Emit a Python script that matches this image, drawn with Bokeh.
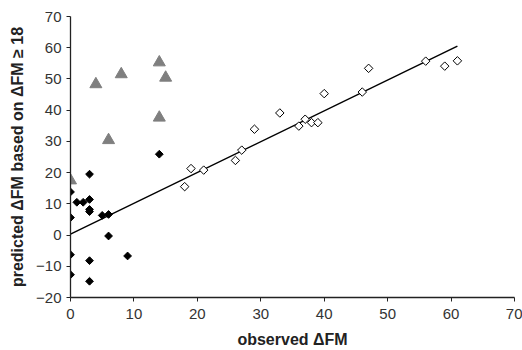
import math
from bokeh.plotting import figure
from bokeh.models import Range1d, FixedTicker
from bokeh.embed import file_html
from bokeh.resources import INLINE

# filled diamonds (observed < 18)
low_x = [0, 0, 0, 0, 1, 2, 3, 3, 3, 3, 3, 3, 5, 6, 6, 9, 14]
low_y = [13.8, 5.6, -6.3, -12.7, 10.5, 10.5, 19.5, 11.4, 8.2, 7.5, -8.2, -14.8, 6.3, 6.6, -0.3, -6.7, 25.9]

# grey triangles
tri_x = [0, 4, 6, 8, 14, 14, 15]
tri_y = [17.5, 48.3, 30.4, 51.5, 55.3, 37.6, 50.4]

# open diamonds (observed >= 18)
high_x = [18, 19, 21, 26, 27, 29, 33, 36, 37, 38, 39, 40, 46, 47, 56, 59, 61]
high_y = [15.5, 21.3, 20.8, 23.9, 27.2, 33.9, 39.1, 34.9, 37.1, 36.0, 36.0, 45.3, 45.8, 53.4, 55.7, 54.1, 55.8]

# regression line
fit_x = [0, 61]
fit_y = [0.3, 60.5]

x_ticks = [0, 10, 20, 30, 40, 50, 60, 70]
y_ticks = [-20, -10, 0, 10, 20, 30, 40, 50, 60, 70]

p = figure(width=522, height=350, output_backend="svg", toolbar_location=None,
           x_range=Range1d(0, 70), y_range=Range1d(-20, 70),
           min_border_left=70, min_border_right=8, min_border_top=16, min_border_bottom=52)
p.outline_line_color = None
p.grid.visible = False
p.background_fill_color = "white"

FONT = "Liberation Sans"
for ax, ticks in ((p.xaxis[0], x_ticks), (p.yaxis[0], y_ticks)):
    ax.ticker = FixedTicker(ticks=ticks)
    ax.minor_tick_line_color = None
    ax.major_tick_in = 0
    ax.major_tick_out = 4
    ax.axis_line_color = "#222222"
    ax.axis_line_width = 1.3
    ax.major_tick_line_color = "#222222"
    ax.major_label_text_font = FONT
    ax.major_label_text_font_size = "15px"
    ax.major_label_text_color = "#333333"
    ax.axis_label_text_font = FONT
    ax.axis_label_text_font_size = "16px"
    ax.axis_label_text_font_style = "bold"
    ax.axis_label_text_color = "#222222"

p.xaxis.axis_label = "observed ΔFM"
p.yaxis.axis_label = "predicted ΔFM based on ΔFM ≥ 18"
p.xaxis.major_label_standoff = 7
p.yaxis.major_label_standoff = 5
p.xaxis.axis_label_standoff = 9
p.yaxis.axis_label_standoff = 7

p.line(fit_x, fit_y, line_color="black", line_width=1.5)
p.scatter(low_x, low_y, marker="square", size=5.5, angle=math.pi / 4,
          fill_color="black", line_color="black")
p.scatter(high_x, high_y, marker="square", size=6, angle=math.pi / 4,
          fill_color="white", line_color="black", line_width=1)
p.scatter(tri_x, tri_y, marker="triangle", size=12, fill_color="#7f7f7f",
          line_color="#7f7f7f")

open("out.html", "w").write(file_html(p, INLINE))
